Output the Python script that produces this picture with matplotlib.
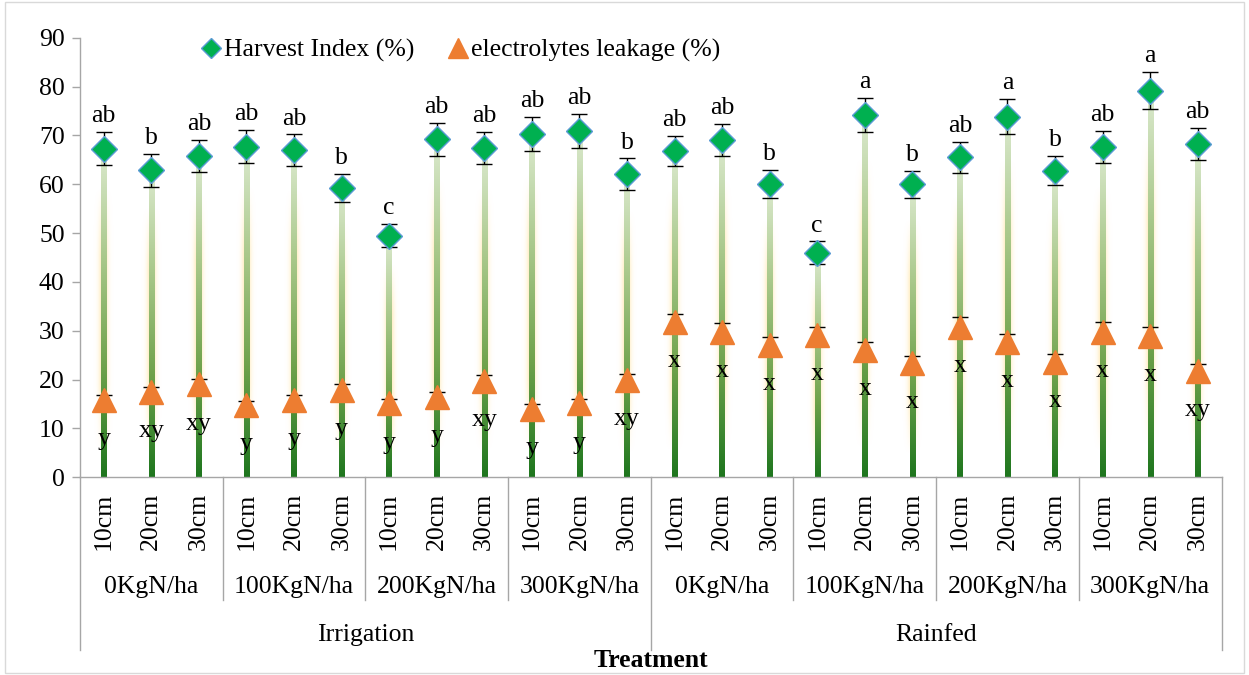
import numpy as np
import matplotlib.pyplot as plt
from matplotlib.colors import LinearSegmentedColormap
from matplotlib.lines import Line2D
from matplotlib.patches import Rectangle

plt.rcParams['font.family'] = ['Liberation Serif', 'DejaVu Serif']

# data
depths = ['10cm', '20cm', '30cm'] * 8
nitrogen = ['0KgN/ha', '100KgN/ha', '200KgN/ha', '300KgN/ha'] * 2
water = ['Irrigation', 'Rainfed']

harvest_index = [67.3, 62.9, 65.8, 67.7, 67.0, 59.3, 49.5, 69.2, 67.5, 70.3, 70.9, 62.1,
                 66.8, 69.0, 60.0, 46.0, 74.2, 60.0, 65.5, 73.8, 62.8, 67.7, 79.2, 68.2]
hi_err = [3.4, 3.4, 3.3, 3.4, 3.2, 2.9, 2.4, 3.4, 3.3, 3.5, 3.5, 3.2,
          3.1, 3.3, 2.9, 2.3, 3.5, 2.8, 3.2, 3.6, 3.0, 3.3, 3.8, 3.3]
hi_letters = ['ab', 'b', 'ab', 'ab', 'ab', 'b', 'c', 'ab', 'ab', 'ab', 'ab', 'b',
              'ab', 'ab', 'b', 'c', 'a', 'b', 'ab', 'a', 'b', 'ab', 'a', 'ab']

leakage = [15.8, 17.4, 19.0, 14.8, 15.8, 17.8, 15.1, 16.5, 19.7, 13.9, 15.1, 19.9,
           31.8, 29.8, 27.0, 29.1, 26.0, 23.4, 30.8, 27.7, 23.6, 29.8, 28.9, 21.7]
el_err = [1.0, 1.0, 1.2, 0.9, 1.0, 1.2, 0.9, 1.0, 1.3, 1.0, 0.9, 1.3,
          1.7, 1.7, 1.7, 1.7, 1.7, 1.5, 2.0, 1.7, 1.6, 1.9, 1.8, 1.4]
el_letters = ['y', 'xy', 'xy', 'y', 'y', 'y', 'y', 'y', 'xy', 'y', 'y', 'xy',
              'x', 'x', 'x', 'x', 'x', 'x', 'x', 'x', 'x', 'x', 'x', 'xy']

x = np.arange(len(depths))
fs = 18.5

fig = plt.figure(figsize=(12.49, 6.75), dpi=100)
ax = fig.add_axes([0.064, 0.293, 0.914, 0.651])

# soft yellow glow behind the stems
glow = np.zeros((200, 40, 4))
gx = np.exp(-((np.linspace(-1, 1, 40)) ** 2) / 0.2)
gy = np.clip(np.sin(np.linspace(0, np.pi, 200)) * 1.4, 0, 1)
glow[..., 0] = 1.0
glow[..., 1] = 0.88
glow[..., 2] = 0.58
glow[..., 3] = 0.7 * np.outer(gy, gx)

stem_cmap = LinearSegmentedColormap.from_list('stem', ['#1E761E', '#6FA24B', '#A9C88A', '#DCEACF'])
grad = np.linspace(0, 1, 256).reshape(-1, 1)

for xi, h in zip(x, harvest_index):
    ax.imshow(glow, extent=[xi - 0.22, xi + 0.22, h * 0.08, h * 0.88], origin='lower',
              aspect='auto', zorder=1, interpolation='bilinear')
    ax.imshow(grad, extent=[xi - 0.055, xi + 0.055, 0, h], origin='lower', cmap=stem_cmap,
              aspect='auto', zorder=2, interpolation='bilinear')

ax.errorbar(x, harvest_index, yerr=hi_err, fmt='none', ecolor='black', elinewidth=1,
            capsize=6, capthick=1, zorder=3)
ax.errorbar(x, leakage, yerr=el_err, fmt='none', ecolor='black', elinewidth=1,
            capsize=6, capthick=1, zorder=3)
ax.plot(x, harvest_index, linestyle='none', marker='D', markersize=13,
        markerfacecolor='#00B050', markeredgecolor='#5B9BD5', markeredgewidth=1, zorder=4)
ax.plot(x, leakage, linestyle='none', marker='^', markersize=17,
        markerfacecolor='#ED7D31', markeredgecolor='#ED7D31', zorder=4)

for xi, h, e, t in zip(x, harvest_index, hi_err, hi_letters):
    ax.text(xi, h + e + 1.0, t, ha='center', va='bottom', fontsize=fs, zorder=5)
for xi, v, t in zip(x, leakage, el_letters):
    ax.text(xi, v - 8, t, ha='center', va='center', fontsize=fs, zorder=5)

ax.set_xlim(-0.5, len(x) - 0.5)
ax.set_ylim(0, 90)
ax.set_yticks(np.arange(0, 91, 10))
ax.tick_params(axis='y', labelsize=fs, color='#A6A6A6', length=6, width=1, pad=5)
ax.set_xticks([])
for s in ['top', 'right']:
    ax.spines[s].set_visible(False)
for s in ['left', 'bottom']:
    ax.spines[s].set_color('#A6A6A6')
    ax.spines[s].set_linewidth(1)

# multi-level category labels
tr = ax.get_xaxis_transform()
for xi, d in zip(x, depths):
    ax.text(xi, -0.035, d, rotation=90, ha='center', va='top', fontsize=fs, transform=tr)
for i, n in enumerate(nitrogen):
    ax.text(3 * i + 1, -0.25, n, ha='center', va='center', fontsize=fs, transform=tr)
for i, w in enumerate(water):
    ax.text(12 * i + 5.5, -0.358, w, ha='center', va='center', fontsize=fs, transform=tr)
for b in range(0, 25, 3):
    low = -0.394 if b % 12 == 0 else -0.28
    ax.add_line(Line2D([b - 0.5, b - 0.5], [0, low], transform=tr, color='#A6A6A6',
                       linewidth=1, clip_on=False))
ax.text(11.5, -0.418, 'Treatment', ha='center', va='center', fontsize=fs,
        fontweight='bold', transform=tr)

handles = [Line2D([], [], linestyle='none', marker='D', markersize=10, markerfacecolor='#00B050',
                  markeredgecolor='#5B9BD5', label='Harvest Index (%)'),
           Line2D([], [], linestyle='none', marker='^', markersize=14, markerfacecolor='#ED7D31',
                  markeredgecolor='#ED7D31', label='electrolytes leakage (%)')]
fig.legend(handles=handles, loc='center left', bbox_to_anchor=(0.14, 0.925), ncol=2,
           frameon=False, fontsize=fs, handletextpad=0.0, columnspacing=1.2, handlelength=1)

fig.add_artist(Rectangle((0.004, 0.003), 0.992, 0.994, transform=fig.transFigure,
                         fill=False, edgecolor='#D9D9D9', linewidth=1))

fig.savefig('out.png', dpi=100)
